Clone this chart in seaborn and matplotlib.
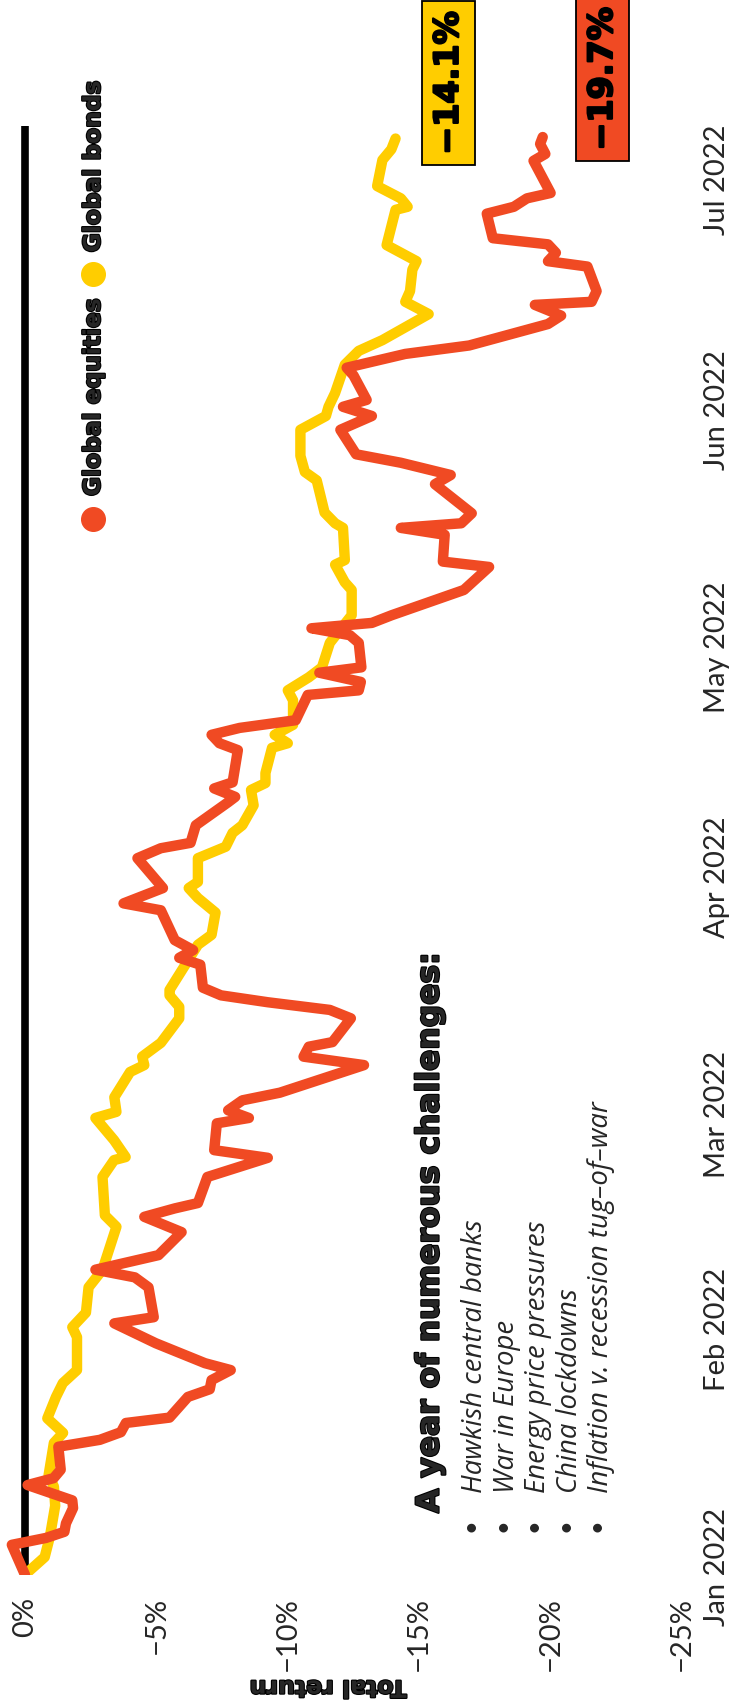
import numpy as np
import pandas as pd
import matplotlib
matplotlib.use('Agg')
import matplotlib.pyplot as plt
import matplotlib.patheffects as pe
import seaborn as sns

# days since 1 Jan 2022 and total return in %
equity_day = [-1, 2.9, 3.8, 4.6, 5.7, 7.7, 8.7, 10.7, 11.6, 12.7, 15.7, 16.6, 17.6, 18.8, 19.5,
              22.2, 23.2, 24.4, 25.7, 26.6, 29.2, 31.8, 32.6, 36.5, 37.8, 38.8, 40.7, 43.7, 45.7,
              46.8, 47.5, 50.9, 53.4, 54.4, 57.9, 58.6, 59.6, 60.9, 61.9, 65.5, 66.6, 67.9, 68.5,
              71.6, 72.7, 73.7, 74.6, 75.6, 78.6, 79.5, 80.5, 81.8, 85.7, 86.6, 88.6, 92.5, 93.8,
              94.5, 96.8, 99.8, 100.5, 101.6, 102.4, 106.6, 107.5, 108.6, 109.5, 110.5, 113.8,
              114.4, 115.5, 116.7, 117.4, 120.6, 121.6, 122.5, 123.2, 124.2, 127.5, 130.5, 131.2,
              134.7, 135.6, 136.2, 137.5, 141.3, 142.5, 144.1, 145.2, 148.4, 150.2, 151.4, 152.3,
              155.5, 156.5, 158.3, 159.4, 162.2, 163.3, 164.7, 165.1, 166.5, 169.7, 170.4, 171.5,
              172.6, 173.4, 176.6, 177.5, 178.6, 179.3, 183.5, 184.4, 185.7, 186.6]
equity_ret = [0, 0.5, -0.8, -1.5, -1.56, -1.83, -1.8, -0.1, -1.09, -1.36, -1.27, -2.85, -3.65,
              -3.84, -5.5, -6.2, -7.03, -7.1, -7.83, -6.85, -4.98, -3.4, -4.9, -4.7, -4.18, -2.68,
              -5.08, -5.96, -4.54, -5.7, -6.58, -6.94, -9.24, -7.2, -7.3, -8.52, -7.73, -8.27, -9.7,
              -12.9, -10.6, -10.8, -11.7, -12.4, -11.6, -9.24, -7.46, -6.77, -6.67, -5.87, -6.4,
              -5.7, -5.17, -3.75, -5.25, -4.28, -5.17, -6.3, -6.5, -7.73, -8.0, -7.2, -7.9, -8.1,
              -7.4, -7.1, -8.17, -10.3, -10.76, -12.7, -12.78, -11.2, -12.8, -12.7, -12.36, -10.9,
              -13.2, -13.95, -16.7, -17.66, -15.9, -15.97, -14.3, -16.6, -17.0, -15.6, -16.2, -14.3,
              -12.6, -12.0, -13.2, -12.1, -13.0, -12.5, -12.24, -14.47, -16.9, -19.9, -20.4, -19.4,
              -21.56, -21.75, -21.4, -19.9, -20.2, -19.9, -17.8, -17.57, -18.6, -19.1, -20.0,
              -19.35, -19.8, -19.6, -19.7]

bond_day = [-1, 1.3, 4.0, 8.0, 10.5, 12.0, 16.2, 17.5, 19.4, 22.2, 24.0, 25.7, 30.0, 31.3, 33.2,
            36.5, 38.8, 44.4, 45.9, 50.9, 53.1, 53.5, 55.7, 58.6, 59.4, 61.3, 64.6, 65.5, 66.6,
            68.4, 71.6, 73.1, 74.6, 75.3, 78.8, 81.2, 82.5, 85.4, 87.3, 88.6, 89.4, 92.5, 94.0,
            95.8, 96.8, 99.4, 101.4, 102.3, 103.6, 106.9, 107.5, 108.6, 109.9, 113.1, 114.4,
            116.1, 117.4, 120.6, 124.2, 127.5, 128.5, 130.8, 131.4, 135.6, 136.2, 137.6, 141.8,
            142.9, 145.0, 148.4, 150.2, 151.4, 153.2, 156.0, 156.9, 158.7, 160.1, 163.5, 165.1,
            166.5, 169.3, 170.4, 172.5, 177.1, 177.5, 178.6, 180.2, 183.6, 185.0, 186.4]
bond_ret = [0, -0.75, -0.95, -1.15, -1.1, -0.9, -1.1, -1.45, -0.85, -1.18, -1.44, -1.98, -1.98,
            -1.8, -2.32, -2.42, -2.95, -3.48, -3.04, -2.95, -3.39, -3.83, -3.39, -2.68, -3.48,
            -3.4, -4.0, -4.54, -4.46, -5.17, -5.87, -5.87, -5.5, -5.5, -6.14, -6.58, -7.1, -7.25,
            -6.58, -6.23, -6.58, -6.58, -7.64, -7.9, -8.27, -8.7, -8.6, -9.15, -9.15, -9.4, -10.0,
            -9.5, -10.2, -10.2, -10.0, -10.8, -11.3, -11.6, -12.43, -12.43, -12.17, -11.8, -12.17,
            -12.1, -11.8, -11.4, -11.1, -10.65, -10.48, -10.48, -11.45, -11.55, -11.8, -12.08,
            -12.17, -12.7, -13.6, -15.36, -14.47, -14.65, -14.74, -14.9, -13.76, -14.1, -14.56,
            -14.3, -13.4, -13.6, -13.94, -14.1]

series_names = ['Global equities', 'Global bonds']
series_colors = ['#F04A23', '#FFCD00']
end_labels = ['\u221219.7%', '\u221214.1%']
pct_ticks = [0, -5, -10, -15, -20, -25]
month_ticks = ['2022-01-01', '2022-02-01', '2022-03-01', '2022-04-01',
               '2022-05-01', '2022-06-01', '2022-07-01']
month_labels = ['Jan 2022', 'Feb 2022', 'Mar 2022', 'Apr 2022', 'May 2022', 'Jun 2022', 'Jul 2022']
title = 'A year of numerous challenges:'
challenges = ['Hawkish central banks', 'War in Europe', 'Energy price pressures',
              'China lockdowns', 'Inflation v. recession tug\u2013of\u2013war']

start = pd.Timestamp('2022-01-01')
df = pd.concat([
    pd.DataFrame({'date': start + pd.to_timedelta(equity_day, unit='D'),
                  'ret': equity_ret, 'series': series_names[0]}),
    pd.DataFrame({'date': start + pd.to_timedelta(bond_day, unit='D'),
                  'ret': bond_ret, 'series': series_names[1]}),
], ignore_index=True)
palette = dict(zip(series_names, series_colors))

sns.set_theme(style='white')
plt.rcParams['font.family'] = ['Lato', 'DejaVu Sans']
# heavy display type: bold plus a thin stroke to fatten it
heavy = dict(family=['DejaVu Sans'], fontweight='bold',
             path_effects=[pe.withStroke(linewidth=1.6, foreground='black')])

fig = plt.figure(figsize=(7.31, 17.07), dpi=100)
ax = fig.add_axes([0, 0.0775, 0.933, 0.8485])

# zero line
ax.axvline(0, color='black', lw=5.5, zorder=1)

sns.lineplot(data=df, x='ret', y='date', hue='series', hue_order=series_names[::-1],
             palette=palette, sort=False, estimator=None, orient='y', lw=7.5,
             solid_joinstyle='round', solid_capstyle='round', legend=False, ax=ax, zorder=3)

ax.set_xlim(0.95, -25)
ax.set_ylim(pd.Timestamp('2021-12-31'), pd.Timestamp('2022-07-08'))
for s in ax.spines.values():
    s.set_visible(False)
ax.grid(False)

ax.set_xticks(pct_ticks)
ax.set_xticklabels([f'{v}%'.replace('-', '\u2212') for v in pct_ticks], rotation=90,
                   fontsize=21, va='top', ha='center')
ax.yaxis.tick_right()
ax.set_yticks(pd.to_datetime(month_ticks))
ax.set_yticklabels(month_labels, rotation=90, fontsize=21, va='center', ha='left')
ax.tick_params(axis='x', length=0, pad=16)
ax.tick_params(axis='y', length=0, pad=16)
ax.set_ylabel('')
ax.set_xlabel('Total return', rotation=180, fontsize=17, va='center', ha='center', **heavy)
ax.xaxis.set_label_coords(0.481, -0.078)

# end value boxes
for name, col, lab, off in zip(series_names, series_colors, end_labels, [(43, 42), (38, 40)]):
    sub = df[df['series'] == name]
    ax.annotate(lab, xy=(sub['ret'].iloc[-1], sub['date'].iloc[-1]), xytext=off,
                textcoords='offset points', rotation=90, ha='center', va='center',
                fontsize=24, color='black', annotation_clip=False,
                bbox=dict(boxstyle='square,pad=0.3', fc=col, ec='black', lw=1.3), **heavy)

# legend
leg_y = [(0.729, 0.7447), (0.8982, 0.913)]
for name, col, (dy, ty) in zip(series_names, series_colors, leg_y):
    ax.plot([0.1364], [dy], 'o', ms=17, color=col, transform=ax.transAxes, clip_on=False)
    ax.text(0.137, ty, name, rotation=90, ha='center', va='bottom', fontsize=16.8,
            transform=ax.transAxes, **heavy)

# challenges box
ax.text(0.6305, 0.0426, title, rotation=90, ha='center', va='bottom', fontsize=22.6,
        transform=ax.transAxes, **heavy)
for i, item in enumerate(challenges):
    xc = (475 + 31.5 * i) / 682
    ax.text(xc - 4 / 682, 0.0343, '\u2022', rotation=90, ha='center', va='center',
            fontsize=17, transform=ax.transAxes)
    ax.text(xc, 0.0564, item, rotation=90, ha='center', va='bottom', fontsize=19.8,
            style='italic', family=['Open Sans', 'DejaVu Sans'],
            transform=ax.transAxes)

fig.savefig('out.png', dpi=100)
